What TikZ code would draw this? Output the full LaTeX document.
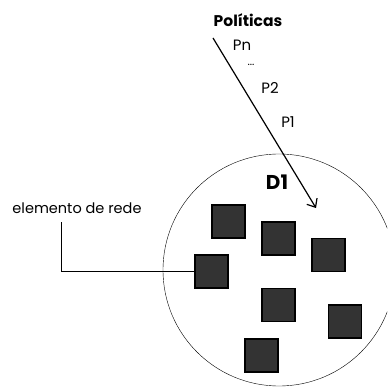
\documentclass[tikz,border=0pt]{standalone}
\usepackage{fontspec}
\setmainfont{Poppins}
\usetikzlibrary{arrows.meta}

\begin{document}
\begin{tikzpicture}[x=1pt,y=-1pt]
    \tikzstyle{every node}=[font=\fontsize{15}{17}\selectfont]
    \tikzstyle{elem}=[draw=black,line width=1.3pt,fill=black!80,minimum size=33pt,inner sep=0pt]
    \clip (0,0) rectangle (387,387);
    \useasboundingbox (0,0) rectangle (387,387);

    \node[draw,circle,minimum size=232pt,inner sep=0pt] (domain) at (279,270) {};
    \node[font=\fontsize{20}{22}\selectfont\bfseries] (d1) at (277,182) {D1};

    \node[elem] (e1) at (228.5,221.5) {};
    \node[elem] (e2) at (278.5,238.5) {};
    \node[elem] (e3) at (328.5,255) {};
    \node[elem] (e4) at (211.5,271.5) {};
    \node[elem] (e5) at (278.5,305) {};
    \node[elem] (e6) at (345,321.5) {};
    \node[elem] (e7) at (261.5,355.5) {};

    \node[font=\fontsize{14.5}{16}\selectfont] (label) at (77,208) {elemento de rede};
    \coordinate (lstart) at (61,222);
    \draw[line width=0.6pt] (lstart) |- (e4.west);

    \node[font=\fontsize{15.5}{17}\selectfont\bfseries] (pol) at (248,20) {Políticas};
    \node (pn) at (242,45) {Pn};
    \node[font=\fontsize{11}{12}\selectfont,inner sep=0pt,text height=2pt,text depth=0pt,anchor=base] (dots) at (251,66) {...};
    \node (p2) at (270,88) {P2};
    \node (p1) at (288,122) {P1};

    \coordinate (from) at (213,38);
    \coordinate (to) at (316,208);
    \draw[-{Straight Barb[length=7pt,width=12pt]},line width=1.2pt] (from) -- (to);
\end{tikzpicture}
\end{document}
